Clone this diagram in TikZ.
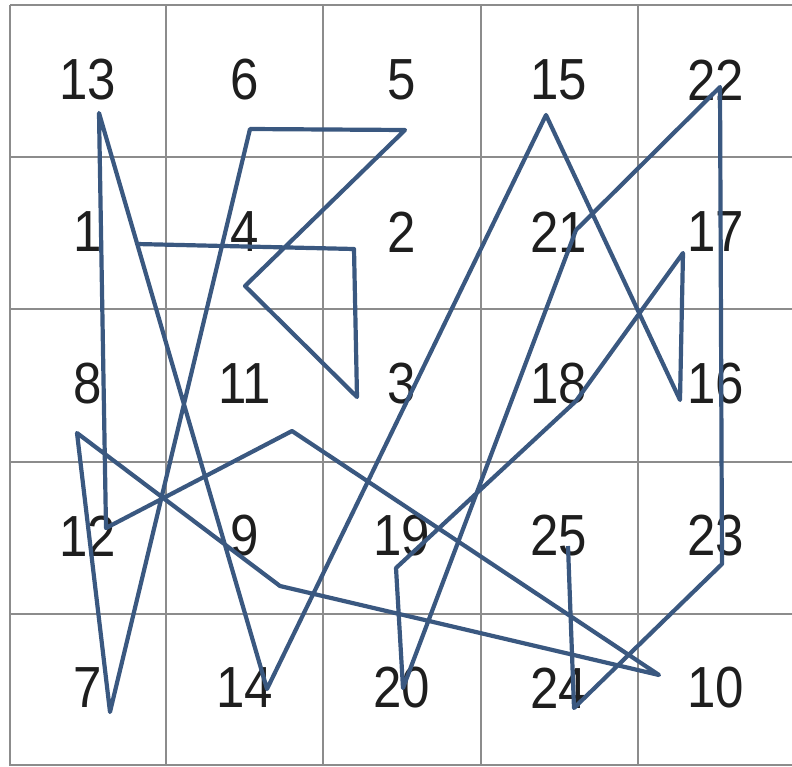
\documentclass[tikz,border=0pt]{standalone}
\usepackage{fontspec}
\setmainfont{Liberation Sans}
\newfontfamily\cellfont[FakeStretch=0.88]{Liberation Sans}
\usepackage{xcolor}
\definecolor{gridgray}{RGB}{140,140,140}
\definecolor{trailblue}{RGB}{58,88,128}
\definecolor{digitink}{RGB}{30,30,30}

\tikzset{
    gridline/.style={draw=gridgray,line width=1.2pt},
    cellnum/.style={text=digitink,inner sep=0pt,font=\cellfont\fontsize{29}{29}\selectfont},
    trail/.style={draw=trailblue,line width=2.1pt,line join=round}
}

\begin{document}
\begin{tikzpicture}[x=0.5pt,y=-0.5pt]
        \useasboundingbox (0,0) rectangle (792,766);
        % grid
        \foreach \gx in {10,166,323,481,638}
            \draw[gridline] (\gx,5) -- (\gx,766);
        \foreach \gy in {5,157,309,462,614,765}
            \draw[gridline] (10,\gy) -- (792,\gy);
        % numbers, row by row
        \foreach \row [count=\j from 0] in {{13,6,5,15,22},{1,4,2,21,17},{8,11,3,18,16},{12,9,19,25,23},{7,14,20,24,10}}
            \foreach \num [count=\i from 0] in \row
                \node[cellnum] (n\num) at ({87.5+157*\i},{80+152*\j}) {\num};
        % path corners
        \coordinate (p1) at (137,244);
        \coordinate (p2) at (354,249);
        \coordinate (p3) at (357,397);
        \coordinate (p4) at (245,286);
        \coordinate (p5) at (405,130);
        \coordinate (p6) at (250,129);
        \coordinate (p7) at (110,712);
        \coordinate (p8) at (77,433);
        \coordinate (p9) at (280,586);
        \coordinate (p10) at (659,675);
        \coordinate (p11) at (292,431);
        \coordinate (p12) at (106,528);
        \coordinate (p13) at (99,113);
        \coordinate (p14) at (267,689);
        \coordinate (p15) at (546,115);
        \coordinate (p16) at (680,400);
        \coordinate (p17) at (683,253);
        \coordinate (p18) at (576,401);
        \coordinate (p19) at (396,568);
        \coordinate (p20) at (403,688);
        \coordinate (p21) at (576,230);
        \coordinate (p22) at (720,87);
        \coordinate (p23) at (722,564);
        \coordinate (p24) at (574,708);
        \coordinate (p25) at (568,546);
        \draw[trail] (p1) \foreach \k in {2,...,25} { -- (p\k) };
    \end{tikzpicture}
\end{document}
